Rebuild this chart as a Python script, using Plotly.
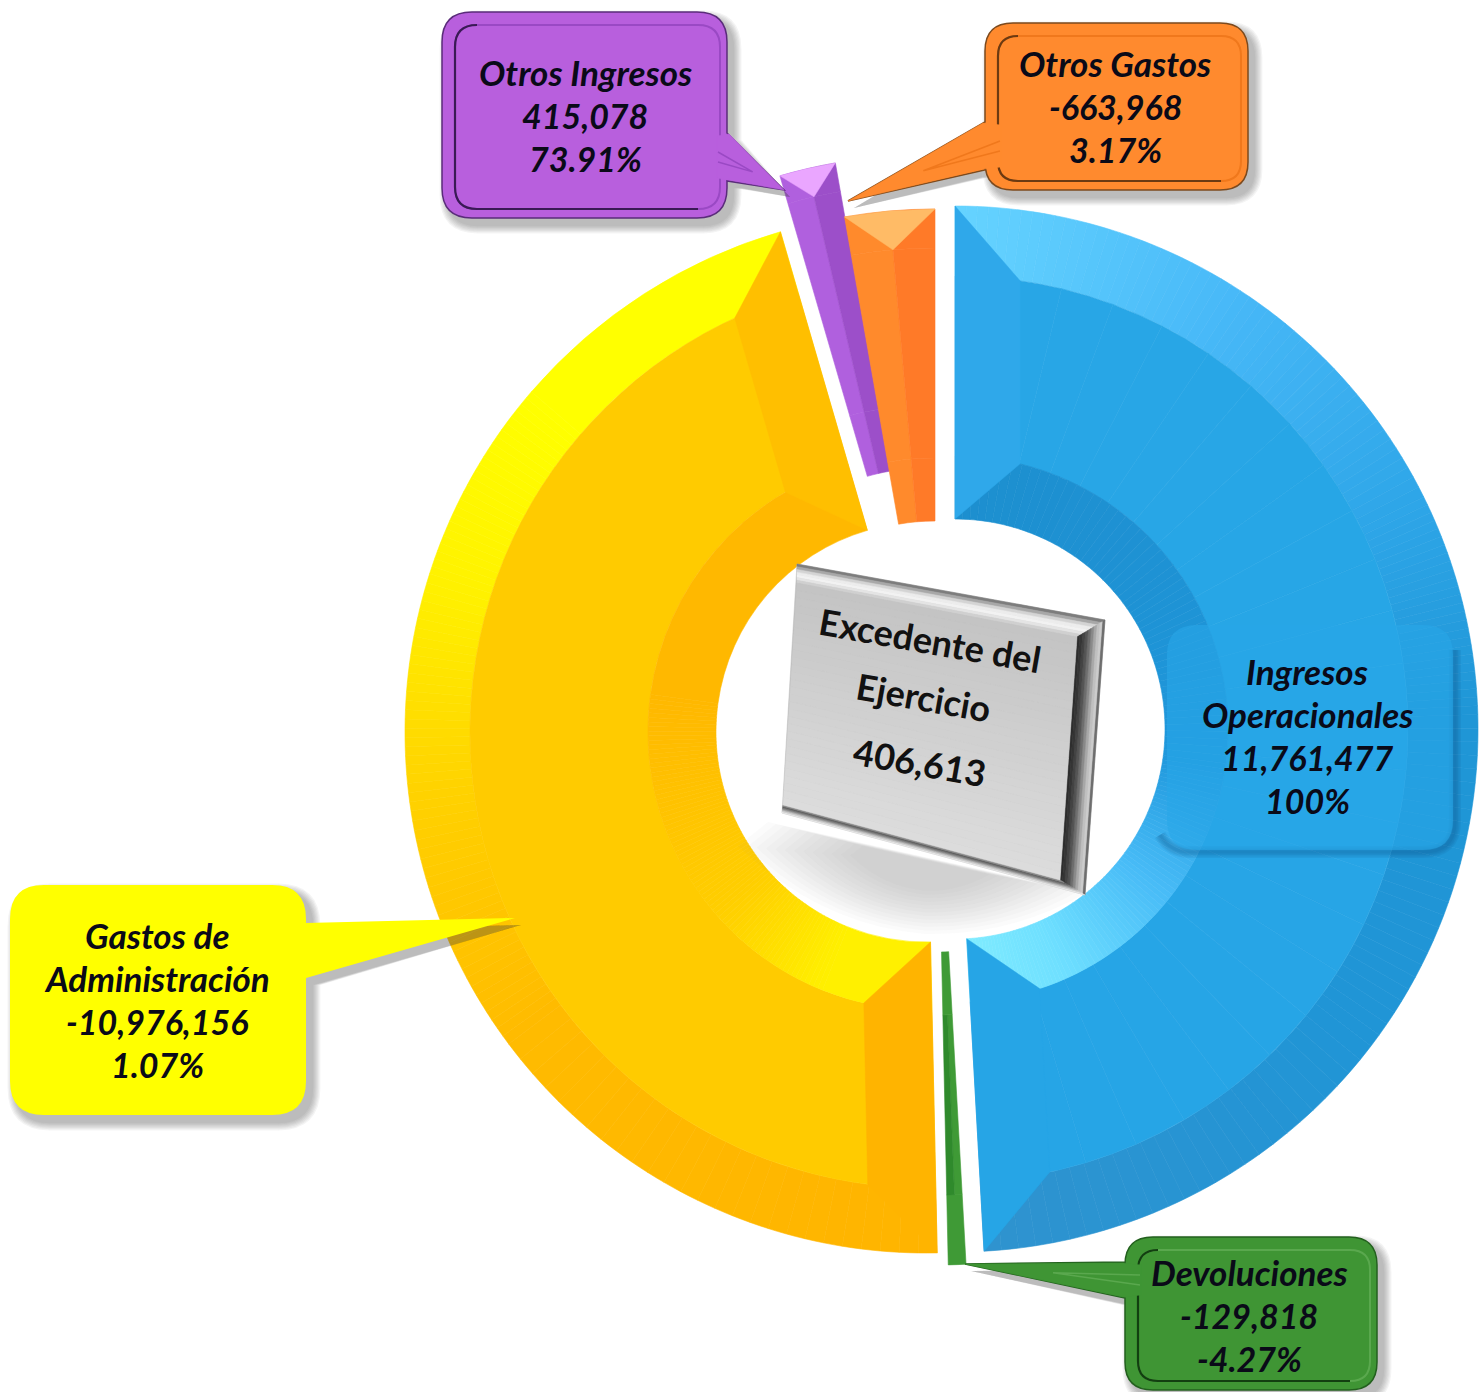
import math
import plotly.graph_objects as go

# ---- data ----
categories = ["Ingresos<br>Operacionales", "Devoluciones", "Gastos de<br>Administración", "Otros Ingresos", "Otros Gastos"]
signed_values = [11761477, -129818, -10976156, 415078, -663968]
percent_labels = ["100%", "-4.27%", "1.07%", "73.91%", "3.17%"]
center_title = ["Excedente del", "Ejercicio"]
center_value = 406613

W, H = 1482, 1392
values = [abs(v) for v in signed_values]
total = sum(values)


def X(px):
    return px / W


def Y(py):
    return 1 - py / H


def hex2rgb(c):
    return tuple(int(c[i:i + 2], 16) for i in (1, 3, 5))


def mix(a, b, t):
    ra, rb = hex2rgb(a), hex2rgb(b)
    return "#%02x%02x%02x" % tuple(round(x + (y - x) * t) for x, y in zip(ra, rb))


def facets(stops, m=26):
    out = []
    for (t0, c0), (t1, c1) in zip(stops, stops[1:]):
        if t1 <= t0:
            continue
        if c0 == c1:
            out.append((t1 - t0, c0))
        else:
            for k in range(m):
                out.append(((t1 - t0) / m, mix(c0, c1, (k + .5) / m)))
    return out


style = [
    dict(c=(955, 729), r=523, rin=210, r2=453, r3=273,
         outer=[(0, "#66d4ff"), (.18, "#48b9f8"), (.36, "#2ea6e8"), (.5, "#1f96d6"), (.72, "#2095d6"), (1, "#2f93cf")],
         mid=[(0, "#28a6e6"), (1, "#26a5e6")],
         inner=[(0, "#1d8fcf"), (.3, "#1e92d4"), (.55, "#1f98dc"), (.72, "#47bbf7"), (.88, "#6edfff"), (1, "#80ecff")]),
    dict(c=(937, 742), r=523, rin=210, r2=453, r3=273,
         outer=[(0, "#3f9a36"), (1, "#3f9a36")],
         mid=[(0, "#3f9a36"), (.5, "#3f9a36"), (.5, "#2f8a2c"), (1, "#2f8a2c")],
         inner=[(0, "#3f9a36"), (1, "#3f9a36")]),
    dict(c=(926, 732), r=521, rin=210, r2=456, r3=278,
         outer=[(0, "#ffb400"), (.33, "#ffbb00"), (.5, "#ffd000"), (.66, "#fff200"), (.8, "#ffff00"), (1, "#ffff00")],
         mid=[(0, "#ffcb00"), (1, "#ffcb00")],
         inner=[(0, "#fff000"), (.14, "#fff000"), (.3, "#ffcf00"), (.45, "#ffc300"), (.6, "#ffb800"), (1, "#ffb800")]),
    dict(c=(926, 678), r=523, rin=210, r2=494, r3=273,
         outer=[(0, "#b060de"), (.5, "#b060de"), (.5, "#9c4fc9"), (1, "#9c4fc9")],
         mid=[(0, "#b060de"), (.5, "#b060de"), (.5, "#9c4fc9"), (1, "#9c4fc9")],
         inner=[(0, "#b060de"), (.5, "#b060de"), (.5, "#9c4fc9"), (1, "#9c4fc9")]),
    dict(c=(935, 731), r=522, rin=210, r2=483, r3=273,
         outer=[(0, "#ff8a2c"), (.5, "#ff8a2c"), (.5, "#ff7a28"), (1, "#ff7a28")],
         mid=[(0, "#ff8a2c"), (.5, "#ff8a2c"), (.5, "#ff7a28"), (1, "#ff7a28")],
         inner=[(0, "#ff8a2c"), (.5, "#ff8a2c"), (.5, "#ff7a28"), (1, "#ff7a28")]),
]

fig = go.Figure()


def add_ring(idx, r_out, r_in, stops):
    s = style[idx]
    cx, cy = s["c"]
    fs = facets(stops)
    before = sum(values[:idx])
    after = sum(values[idx + 1:])
    vals = [before] + [values[idx] * f for f, _ in fs] + [after]
    cols = ["rgba(0,0,0,0)"] + [c for _, c in fs] + ["rgba(0,0,0,0)"]
    fig.add_trace(go.Pie(
        values=vals, sort=False, direction="clockwise", rotation=0, hole=r_in / r_out,
        domain=dict(x=[X(cx - r_out), X(cx + r_out)], y=[Y(cy + r_out), Y(cy - r_out)]),
        marker=dict(colors=cols, line=dict(color=cols, width=.6)),
        textinfo="none", hoverinfo="skip", showlegend=False,
    ))


for i, s in enumerate(style):
    add_ring(i, s["r"], s["r2"], s["outer"])
    add_ring(i, s["r2"], s["r3"], s["mid"])
    add_ring(i, s["r3"], s["rin"], s["inner"])

shapes = []


def path_shape(pts_path, fill=None, line=None, lw=0, opacity=1):
    shapes.append(dict(type="path", xref="paper", yref="paper", path=pts_path,
                       fillcolor=fill or "rgba(0,0,0,0)",
                       line=dict(color=line or "rgba(0,0,0,0)", width=lw),
                       opacity=opacity, layer="above"))


def P(x, y):
    return f"{X(x):.5f},{Y(y):.5f}"


def poly(pts, fill):
    path_shape("M " + " L ".join(P(*p) for p in pts) + " Z", fill=fill, line=fill, lw=.5)


def angles(idx):
    a0 = sum(values[:idx]) / total * 360
    return a0, a0 + values[idx] / total * 360


def polar(idx, deg, r):
    cx, cy = style[idx]["c"]
    t = math.radians(deg)
    return (cx + r * math.sin(t), cy - r * math.cos(t))


def end_band(idx, which, w, colour):
    s = style[idx]
    a0, a1 = angles(idx)
    th, sgn = (a0, 1) if which == "start" else (a1, -1)
    pts = [polar(idx, th, s["r"]),
           polar(idx, th + sgn * math.degrees(math.asin(w / s["r2"])), s["r2"]),
           polar(idx, th + sgn * math.degrees(math.asin(w / s["r3"])), s["r3"]),
           polar(idx, th, s["rin"])]
    poly(pts, colour)


def v_cap(idx, colour):
    s = style[idx]
    a0, a1 = angles(idx)
    mid = (a0 + a1) / 2
    poly([polar(idx, a0, s["r"]), polar(idx, mid, s["r"]), polar(idx, a1, s["r"]), polar(idx, mid, s["r2"])], colour)


end_band(0, "start", 65, "#2fa8ea")
end_band(0, "end", 70, "#26a5e6")
end_band(2, "start", 68, "#ffb400")
end_band(2, "end", 68, "#ffbf00")
v_cap(3, "#eaa6ff")
v_cap(4, "#ffbb66")


def rr_path(x0, y0, x1, y1, r, tail=None):
    d = [f"M {P(x0 + r, y0)}"]
    d.append(f"L {P(x1 - r, y0)} Q {P(x1, y0)} {P(x1, y0 + r)}")
    if tail and tail[0] == "r":
        d.append(f"L {P(x1, tail[1])} L {P(tail[3], tail[4])} L {P(x1, tail[2])}")
    d.append(f"L {P(x1, y1 - r)} Q {P(x1, y1)} {P(x1 - r, y1)}")
    d.append(f"L {P(x0 + r, y1)} Q {P(x0, y1)} {P(x0, y1 - r)}")
    if tail and tail[0] == "l":
        d.append(f"L {P(x0, tail[2])} L {P(tail[3], tail[4])} L {P(x0, tail[1])}")
    d.append(f"L {P(x0, y0 + r)} Q {P(x0, y0)} {P(x0 + r, y0)} Z")
    return " ".join(d)


def callout(box, r, tail, fill, edge=None, inner=None, light=None, sh=(6, 7)):
    x0, y0, x1, y1 = box
    for k in range(7, 0, -1):
        g = k * 1.2
        t2 = (tail[0], tail[1] + sh[1], tail[2] + sh[1], tail[3] + sh[0], tail[4] + sh[1])
        path_shape(rr_path(x0 + sh[0] - g, y0 + sh[1] - g, x1 + sh[0] + g, y1 + sh[1] + g, r + g, t2),
                   fill="#404040", opacity=.06)
    path_shape(rr_path(x0, y0, x1, y1, r, tail), fill=fill, line=edge, lw=1.5 if edge else 0)
    if inner:
        i, ir = 13, r - 8
        ix0, iy0, ix1, iy1 = x0 + i, y0 + i, x1 - 7, y1 - 9
        path_shape(rr_path(ix0, iy0, ix1, iy1, ir), line=light, lw=2)
        path_shape(f"M {P(ix0 + ir, iy0)} Q {P(ix0, iy0)} {P(ix0, iy0 + ir)} L {P(ix0, iy1 - ir)} "
                   f"Q {P(ix0, iy1)} {P(ix0 + ir, iy1)} L {P(ix1 - ir, iy1)}", line=inner, lw=2.2)
        side = ix1 if tail[0] == "r" else ix0
        edge_x = x1 if tail[0] == "r" else x0
        sgn = 1 if tail[0] == "r" else -1
        poly([(side - sgn * 3, tail[1] + 3), (edge_x + sgn * 2, tail[1] + 1), (tail[3], tail[4]),
              (edge_x + sgn * 2, tail[2] - 1), (side - sgn * 3, tail[2] - 3)], fill)
        m = (tail[1] + tail[2]) / 2
        mx = edge_x + (tail[3] - edge_x) * .45
        my = m + (tail[4] - m) * .45
        path_shape(f"M {P(side - sgn * 2, m - 5)} L {P(mx, my)} L {P(side - sgn * 2, m + 5)}", line=light, lw=1.5)


# blue label panel: shadow only along right and bottom edges
for wd in (12, 9, 6, 3):
    off = 2
    path_shape(f"M {P(1453 + off, 650)} L {P(1453 + off, 822)} Q {P(1453 + off, 850 + off)} {P(1423, 850 + off)} "
               f"L {P(1190, 850 + off)} Q {P(1170, 850 + off)} {P(1160, 835)}",
               line="#0a4a80", lw=wd, opacity=.09)
path_shape(rr_path(1167, 625, 1453, 850, 30), fill="#28a6e8", opacity=.6)

callout((442, 12, 727, 218), 30, ("r", 133, 181, 784, 190), "#b85fdd", "#5a2c7a", "#3a1a55", "#9a49c4")
callout((985, 23, 1248, 190), 28, ("l", 122, 170, 848, 201), "#ff8a2e", "#7c4a1e", "#6b3a12", "#f0781c")
callout((1125, 1237, 1377, 1390), 28, ("l", 1262, 1298, 965, 1264), "#3f9534", "#23601e", "#123f10", "#5aa84e")
callout((10, 885, 306, 1115), 34, ("r", 923, 978, 515, 918), "#ffff00")

# shadow under the centre box
cxs, cys = 925, 862
base = [(768, 822), (1086, 893), (1010, 936), (925, 934), (820, 925), (738, 846)]
for k in range(13):
    f = 1 - k * .05
    q = [(cxs + (a - cxs) * f, cys + (b - cys) * f) for a, b in base]
    d = (f"M {P(*q[0])} L {P(*q[1])} Q {P(*q[2])} {P(*q[3])} Q {P(*q[4])} {P(*q[5])} Z")
    path_shape(d, fill="#808080", opacity=.035)


def quad(a, b, c, d, fill):
    poly([a, b, c, d], fill)


def lerp(a, b, t):
    return (a[0] + (b[0] - a[0]) * t, a[1] + (b[1] - a[1]) * t)


def strips(a0, b0, a1, b1, cols):
    n = len(cols)
    for i, col in enumerate(cols):
        quad(lerp(a0, a1, i / n), lerp(b0, b1, i / n), lerp(b0, b1, (i + 1) / n), lerp(a0, a1, (i + 1) / n), col)


OTL, OTR, OBR, OBL = (797, 564), (1105, 620), (1085, 895), (782, 813)
ITL, ITR, IBR, IBL = (797, 583), (1077, 637), (1060, 880), (783, 805)
quad(OTL, OTR, OBR, OBL, "#bdbdbd")
strips(OTL, OTR, ITL, ITR, ["#7d7d7d", "#a8a8a8", "#d4d4d4", "#ececec", "#f2f2f2", "#e4e4e4", "#d0d0d0"])
strips(OTR, OBR, ITR, IBR, ["#6e6e6e", "#cccccc", "#c0c0c0", "#a8a8a8", "#8a8a8a", "#6e6e6e", "#555555",
                            "#444444", "#363636", "#2e2e2e"])
strips(OBL, OBR, IBL, IBR, ["#e8e8e8", "#cfcfcf", "#a8a8a8", "#7e7e7e", "#606060", "#8a8a8a"])
strips(ITL, ITR, IBL, IBR, [mix("#c4c4c4", "#dcdcdc", k / 29) for k in range(30)])

annotations = []


def label(x, y, text, size=35, style_="italic", weight="bold", angle=0, color="#0a0a18", fam="Lato"):
    annotations.append(dict(x=X(x), y=Y(y), xref="paper", yref="paper", text=text, showarrow=False,
                            xanchor="center", yanchor="middle", align="center", textangle=angle,
                            font=dict(family=fam, size=size, color=color, style=style_, weight=weight)))


label_pos = [(1307, 671), (1249, 1272), (157, 935), (585, 72), (1115, 63)]
for name, v, pct, (lx, ly) in zip(categories, signed_values, percent_labels, label_pos):
    names = name.split("<br>")
    for n, line in enumerate(names):
        label(lx, ly + n * 43.3, line)
    label(lx, ly + len(names) * 43.3, f"{v:,}", size=34)
    label(lx, ly + (len(names) + 1) * 43.3, pct, size=34)

label(930, 640, center_title[0], size=36, style_="normal", angle=10, color="#111111")
label(924, 697, center_title[1], size=36, style_="normal", angle=10, color="#111111")
label(920, 762, f"{center_value:,}", size=36, style_="normal", angle=10, color="#111111")

fig.update_layout(width=W, height=H, margin=dict(l=0, r=0, t=0, b=0), paper_bgcolor="white",
                  plot_bgcolor="white", showlegend=False, shapes=shapes, annotations=annotations)

fig.write_html("out.html", config={"displayModeBar": False},
               post_script="document.body.style.margin='0';document.documentElement.style.overflow='hidden';")
